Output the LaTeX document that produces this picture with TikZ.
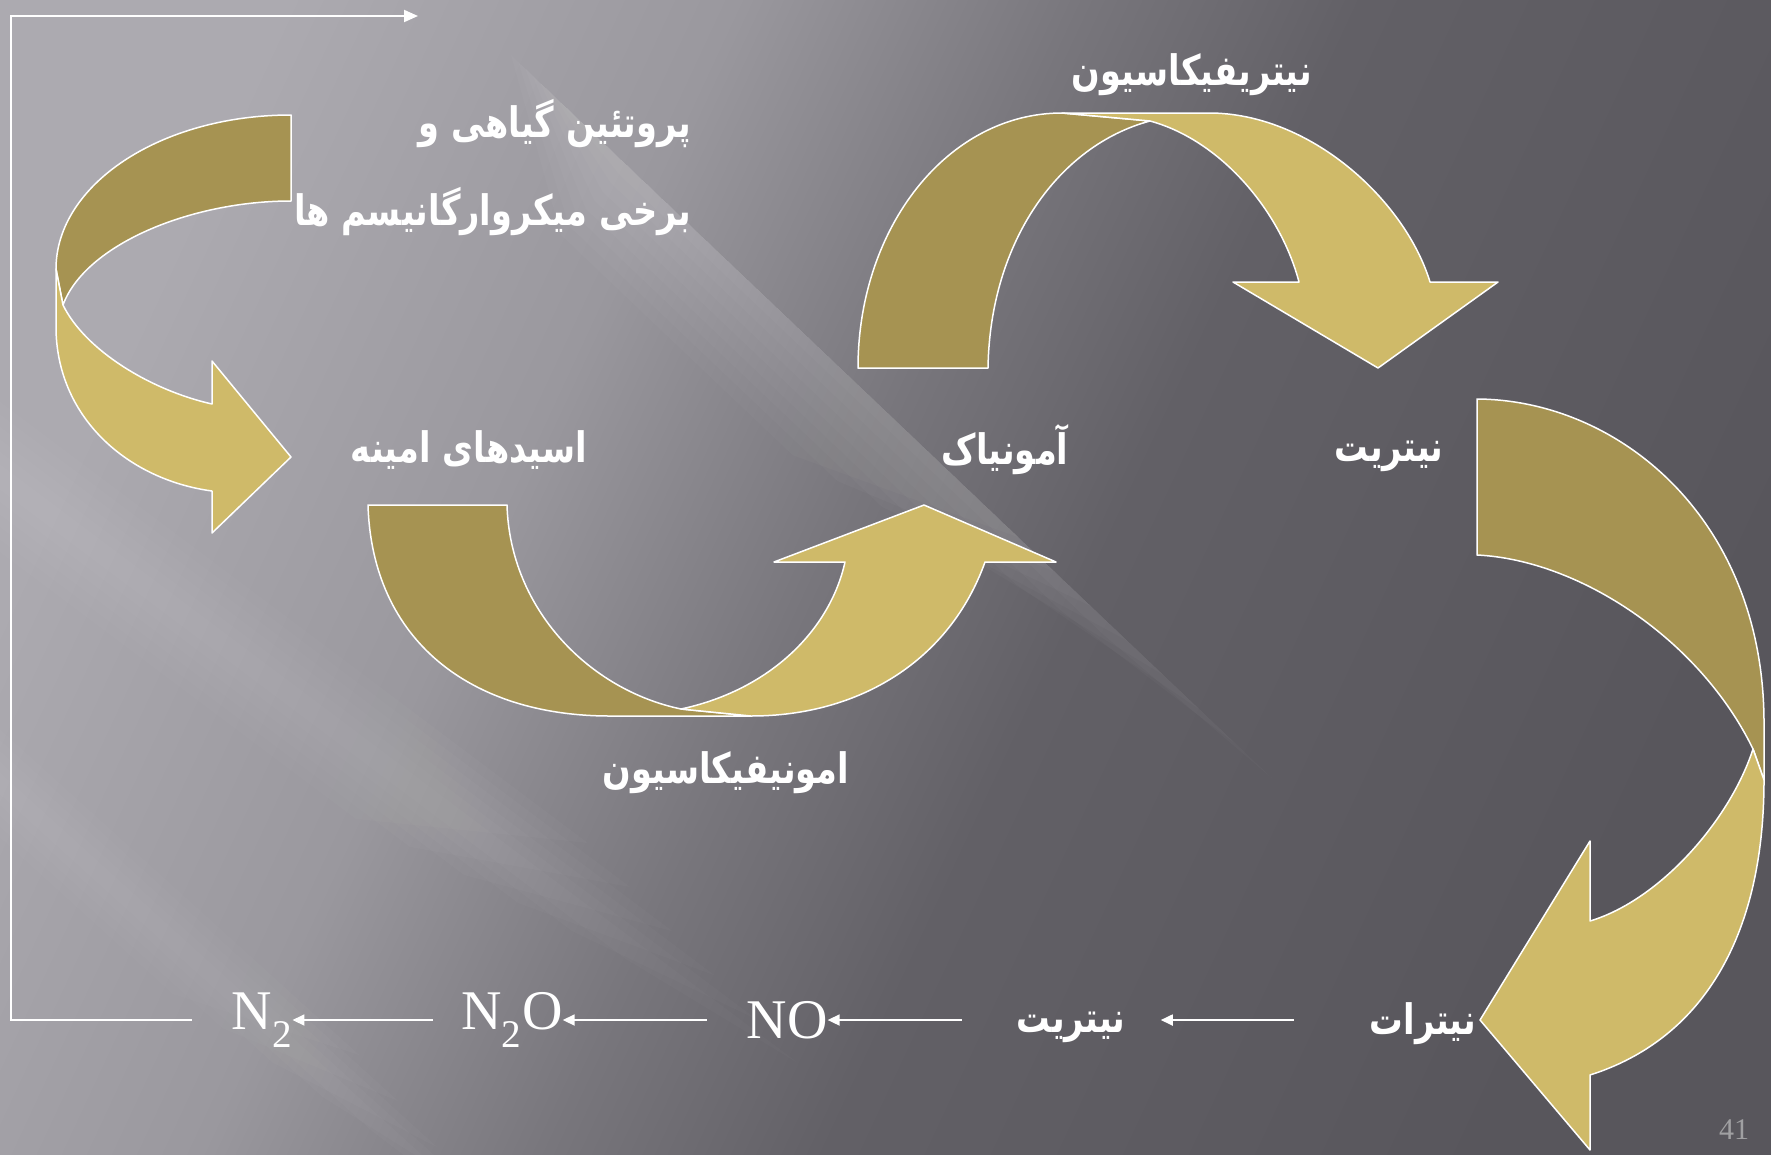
\documentclass[tikz,border=0pt]{standalone}
\usepackage{fontspec}
\usepackage{graphicx}
\setmainfont{Liberation Serif}
\newfontfamily\persianfont[Script=Arabic]{DejaVu Sans}
\TeXXeTstate=1
\usetikzlibrary{arrows.meta,positioning}

\definecolor{bgA}{RGB}{172,170,176}
\definecolor{bgB}{RGB}{154,152,158}
\definecolor{bgC}{RGB}{120,118,124}
\definecolor{bgD}{RGB}{98,96,102}
\definecolor{bgE}{RGB}{88,86,92}
\definecolor{ribbonBack}{RGB}{166,147,82}
\definecolor{ribbonFront}{RGB}{207,186,105}
\definecolor{pageGray}{RGB}{160,160,162}

\pgfdeclarehorizontalshading{slidebg}{100bp}{color(0bp)=(bgA); color(25bp)=(bgA); color(38bp)=(bgB); color(48bp)=(bgC); color(56bp)=(bgD); color(75bp)=(bgE); color(100bp)=(bgE)}

\newcommand{\persian}[1]{\scalebox{0.8}[1]{\beginR#1\endR}}
\newcommand{\lowered}[2]{\raisebox{-#1}[\height][\depth]{#2}}

\tikzset{
    ribbonback/.style = {
        fill=ribbonBack,
        draw=white,
        line width=1.5pt,
        line join=round
    },
    ribbonfront/.style = {
        fill=ribbonFront,
        draw=white,
        line width=1.5pt,
        line join=round
    },
    streak/.style = {
        fill=white,
        draw=none,
        opacity=#1
    },
    fatext/.style = {
        text=white,
        inner sep=0pt,
        font=\persianfont\bfseries\fontsize{42}{48}\selectfont
    },
    chem/.style = {
        text=white,
        inner sep=0pt,
        font=\fontsize{56}{62}\selectfont
    },
    reaction/.style = {
        draw=white,
        line width=1.8pt,
        {Triangle[length=12pt,width=11pt]}-
    },
    loopline/.style = {
        draw=white,
        line width=2pt,
        -{Triangle[length=14pt,width=12pt]}
    }
}

\begin{document}
\begin{tikzpicture}[x=1pt,y=-1pt]
\useasboundingbox (0,0) rectangle (1771,1154);
\shade[shading=slidebg, shading angle=-25] (0,0) rectangle (1771,1154);

% light rays
\foreach \k in {1,...,8}{
    \pgfmathsetmacro{\len}{1100-50*\k-10*(8-\k)}
    \pgfmathsetmacro{\wid}{12*\k}
    \fill[streak=0.025] ({511+0.725*10*(8-\k)},{55+0.689*10*(8-\k)}) -- ++({0.725*\len},{0.689*\len}) -- ++({-0.725*220-0.689*\wid},{-0.689*220+0.725*\wid}) -- ({511+0.725*160-0.689*\wid},{55+0.689*160+0.725*\wid}) -- cycle;
}
\foreach \k in {1,...,6}{
    \pgfmathsetmacro{\len}{1300-60*\k}
    \pgfmathsetmacro{\wid}{10*\k}
    \fill[streak=0.02] ({-200+0.6*\wid},{327-0.8*\wid}) -- ++({0.8*\len},{0.6*\len}) -- ++({-0.8*200-1.2*\wid},{-0.6*200+1.6*\wid}) -- ({-200-0.6*\wid},{327+0.8*\wid}) -- cycle;
}
\foreach \k in {1,...,5}{
    \pgfmathsetmacro{\len}{1000-60*\k}
    \pgfmathsetmacro{\wid}{8*\k}
    \fill[streak=0.018] ({-185+0.67*\wid},{616-0.74*\wid}) -- ++({0.74*\len},{0.67*\len}) -- ++({-0.74*180-1.34*\wid},{-0.67*180+1.48*\wid}) -- ({-185-0.67*\wid},{616+0.74*\wid}) -- cycle;
}

\draw [ribbonback] (291,115) .. controls (160,115) and (56,185) .. (56,269) -- (63,305) .. controls (85,245) and (190,201) .. (291,201) -- cycle;
\draw [ribbonfront] (56,269) -- (56,330) .. controls (58,420) and (130,480) .. (212,491) -- (212,533) -- (291,457) -- (212,361) -- (212,404) .. controls (150,390) and (85,350) .. (63,305) -- cycle;

\draw [ribbonback] (368,505) .. controls (372,640) and (470,716) .. (610,716) -- (751,716) -- (681,709) .. controls (590,690) and (510,610) .. (507,505) -- cycle;
\draw [ribbonfront] (681,709) .. controls (770,690) and (830,630) .. (845,562) -- (774,562) -- (924,505) -- (1056,562) -- (985,562) .. controls (950,660) and (860,716) .. (751,716) -- cycle;

\draw [ribbonback] (858,368) .. controls (858,227) and (948,113) .. (1062,113) -- (1150,121) .. controls (1060,145) and (990,240) .. (988,368) -- cycle;
\draw [ribbonfront] (1150,121) .. controls (1220,140) and (1280,210) .. (1299,282) -- (1233,282) -- (1378,368) -- (1498,282) -- (1430,282) .. controls (1405,200) and (1310,113) .. (1209,113) -- (1062,113) -- cycle;

\draw [ribbonback] (1477,399) .. controls (1620,400) and (1764,520) .. (1764,723) -- (1764,780) -- (1753,749) .. controls (1700,640) and (1580,560) .. (1477,555) -- cycle;
\draw [ribbonfront] (1753,749) .. controls (1730,820) and (1660,900) .. (1590,921) -- (1590,841) -- (1480,1020) -- (1590,1150) -- (1590,1075) .. controls (1700,1040) and (1764,940) .. (1764,780) -- cycle;

\node (protein1) [fatext, anchor=east] at (691,124) {\persian{پروتئین گیاهی و}};
\node (protein2) [fatext, anchor=east] at (691,212) {\persian{برخی میکروارگانیسم ها}};
\node (amino) [fatext] at (469,450) {\persian{اسیدهای امینه}};
\node (ammonia) [fatext] at (1005,450) {\persian{آمونیاک}};
\node (nitriteTop) [fatext] at (1389,456) {\persian{نیتریت}};
\node (nitrification) [fatext] at (1192,75) {\persian{نیتریفیکاسیون}};
\node (ammonification) [fatext] at (726,773) {\persian{امونیفیکاسیون}};

\node (nitrate) [fatext] at (1423,1020) {\lowered{4pt}{\persian{نیترات}}};
\node (nitrite) [fatext] at (1071,1020) {\lowered{7pt}{\persian{نیتریت}}};
\node (no) [chem] at (787,1020) {NO};
\node (nno) [chem] at (512,1020) {N\textsubscript{2}O};
\node (ntwo) [chem] at (262,1020) {N\textsubscript{2}};
\node (page) [text=pageGray, font=\fontsize{30}{34}\selectfont] at (1734,1130) {41};

\coordinate (cornerBottom) at (11,1020);
\coordinate (cornerTop) at (11,16);
\coordinate (loopEnd) at (418,16);

\draw [reaction, shorten <=35pt, shorten >=76pt] (nitrite) -- (nitrate);
\draw [reaction, shorten >=54pt] (no) -- (nitrite);
\draw [reaction, shorten >=39pt] (nno) -- (no);
\draw [reaction, shorten >=28pt] (ntwo) -- (nno);
\draw [loopline, shorten <=40pt] (ntwo.west) -- (cornerBottom) -- (cornerTop) -- (loopEnd);
\end{tikzpicture}
\end{document}
